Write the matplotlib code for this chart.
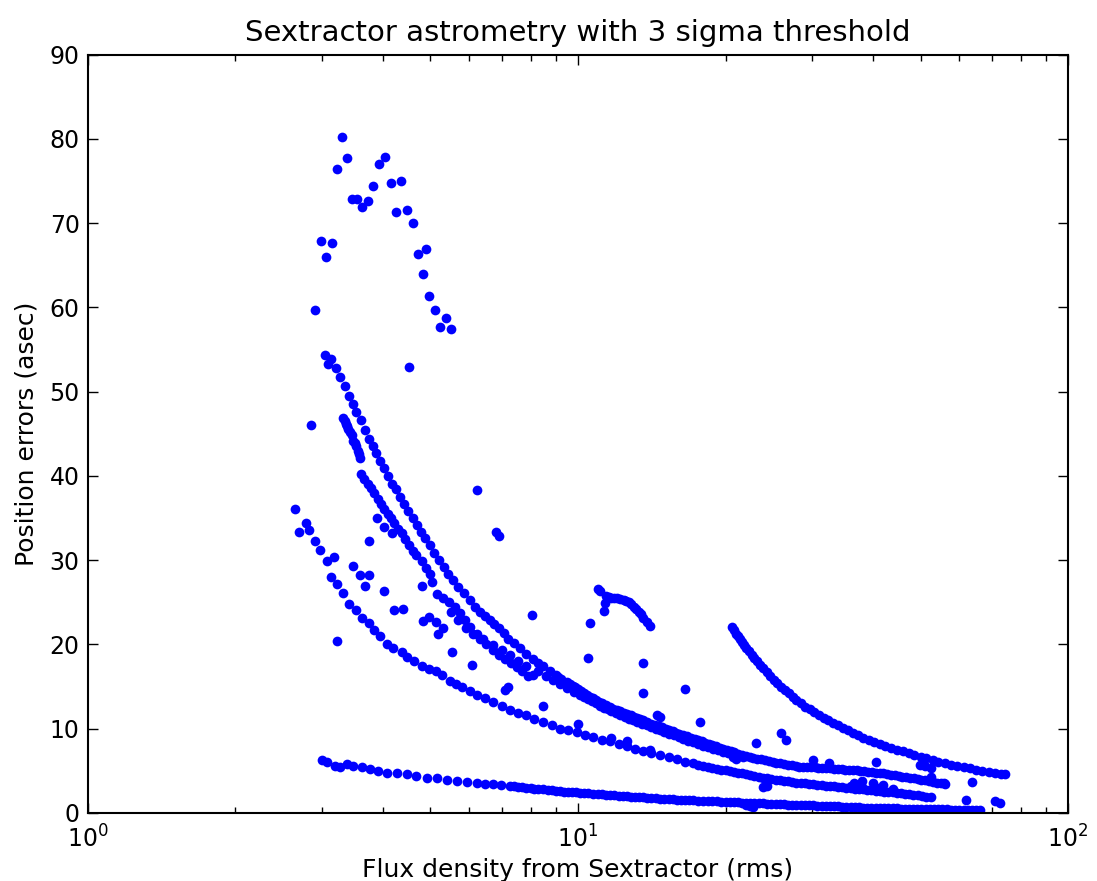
import matplotlib
matplotlib.use("Agg")
import matplotlib.pyplot as plt
from matplotlib.ticker import LogLocator, MultipleLocator

# --- values ---
# isolated sources in the upper cluster
cluster_x = [3.30, 3.37, 3.22, 4.03, 3.93, 3.81, 4.15, 4.36, 3.45, 3.54, 3.72, 3.63, 4.25,
             4.47, 4.60, 2.99, 3.15, 3.06, 4.89, 4.72, 4.83, 4.96, 5.11, 5.37, 5.23, 5.50, 2.91]
cluster_y = [80.2, 77.7, 76.4, 77.9, 77.0, 74.4, 74.8, 75.0, 72.9, 72.9, 72.6, 71.9, 71.3,
             71.6, 70.0, 67.9, 67.7, 66.0, 66.9, 66.3, 64.0, 61.4, 59.7, 58.8, 57.7, 57.4, 59.7]

# other scattered sources
scatter_x = [4.51, 2.85, 6.21, 6.80, 6.90, 3.88, 4.02, 4.18, 3.74, 3.47, 3.59, 3.75, 3.68,
             4.02, 4.21, 4.40, 4.82, 4.96, 5.12, 5.31, 5.19, 3.22, 5.53, 6.09, 4.80, 8.07,
             10.6, 10.5, 13.6, 13.6, 16.5, 14.5, 14.7, 7.19, 7.10, 8.50, 17.7, 23.1, 26.0, 26.6,
             40.5, 63.8, 61.8, 71.1, 72.8, 10.0, 11.7, 12.6, 14.0, 20.7, 21.0, 23.9, 24.3,
             22.4, 22.0, 22.8, 30.2, 32.5, 49.8, 52.6, 51.0, 52.4, 55.7, 36.5, 38.0, 40.0,
             42.0, 38.0, 41.0, 44.0, 36.0]
scatter_y = [52.9, 46.1, 38.3, 33.4, 32.9, 35.0, 34.0, 33.2, 32.3, 29.3, 28.3, 28.3, 27.0,
             26.3, 24.1, 24.2, 22.8, 23.3, 22.7, 22.0, 21.3, 20.4, 19.1, 17.6, 27.0, 23.5,
             22.6, 18.4, 17.8, 14.3, 14.7, 11.6, 11.4, 14.9, 14.6, 12.7, 10.8, 8.3, 9.5, 8.7,
             6.0, 3.7, 1.5, 1.45, 1.15, 10.6, 8.9, 8.6, 7.5, 6.6, 6.4, 3.1, 3.2,
             0.8, 0.9, 0.7, 6.3, 5.9, 5.7, 5.3, 5.6, 4.3, 3.5, 3.6, 3.8, 3.5,
             3.3, 3.1, 3.0, 2.9, 3.2]

# hook near 10-14
hook_x = [11.0, 11.1, 11.35, 11.3, 11.4, 11.55, 11.7, 11.85, 12.0, 12.2, 12.4, 12.55, 12.7,
          12.85, 13.0, 13.15, 13.3, 13.45, 13.6, 13.8, 14.0]
hook_y = [26.6, 26.3, 24.9, 24.0, 25.7, 25.6, 25.5, 25.5, 25.5, 25.4, 25.3, 25.2, 25.1,
          24.8, 24.5, 24.2, 23.9, 23.6, 23.2, 22.7, 22.2]

# upper main track
track_a_x = [3.04, 3.09, 3.14, 3.21, 3.27, 3.34, 3.41, 3.47, 3.53, 3.60, 3.67, 3.74, 3.81,
             3.87, 3.94, 4.02, 4.09, 4.18, 4.26, 4.33, 4.41, 4.50, 4.60, 4.69, 4.78, 4.87,
             4.98, 5.09, 5.20, 5.32, 5.44, 5.56, 5.69, 5.84, 6.01, 6.15, 6.30, 6.45, 6.60,
             6.75, 6.90, 7.05, 7.20, 7.40, 7.60, 7.85, 8.10, 8.30, 8.50, 8.75, 9.00, 9.25,
             9.50, 9.75, 10.0, 10.3, 10.6, 10.9, 11.2, 11.6, 12.0, 12.4, 12.8, 13.2, 13.6,
             14.1, 14.6, 15.1, 15.6, 16.1, 16.7, 17.3, 17.9, 18.5, 19.1, 19.8, 20.5, 21.2,
             22.0, 22.8, 23.6, 24.5, 25.4, 26.3, 27.3, 28.3, 29.3, 30.4, 31.5, 32.7, 33.9,
             35.1, 36.4, 37.7, 39.1, 40.5, 42.0, 43.5, 45.1, 46.7, 48.4, 50.2, 52.0, 54.0, 56.0]
track_a_y = [54.4, 53.3, 53.9, 52.8, 51.7, 50.7, 49.5, 48.6, 47.6, 46.7, 45.5, 44.4, 43.5,
             42.7, 41.8, 41.0, 40.0, 39.1, 38.4, 37.5, 36.7, 35.9, 35.0, 34.2, 33.4, 32.6,
             31.8, 30.9, 30.0, 29.2, 28.4, 27.6, 26.8, 26.1, 25.3, 24.5, 23.9, 23.4, 22.9,
             22.4, 21.9, 21.4, 20.7, 20.2, 19.6, 18.9, 18.3, 17.8, 17.4, 16.9, 16.4, 15.9,
             15.5, 15.1, 14.7, 14.3, 13.8, 13.4, 13.0, 12.6, 12.2, 11.9, 11.6, 11.3, 11.0,
             10.6, 10.3, 10.0, 9.7, 9.4, 9.1, 8.8, 8.5, 8.2, 7.9, 7.6, 7.3, 7.05,
             6.8, 6.55, 6.35, 6.15, 5.95, 5.8, 5.65, 5.5, 5.45, 5.4, 5.35, 5.3, 5.2,
             5.15, 5.1, 5.0, 4.9, 4.8, 4.7, 4.55, 4.4, 4.25, 4.1, 3.95, 3.8, 3.6, 3.4]
# extra readings where the upper track is a solid band
track_a_fill_x = [9.12, 9.62, 9.87, 10.15, 10.45, 10.75, 11.05, 11.4, 11.8, 12.2, 12.6, 13.0,
                  13.4, 13.85, 14.35, 14.85, 15.35, 15.85, 16.4, 17.0, 17.6, 18.2, 18.8, 19.45,
                  20.15, 20.85, 21.6, 22.4, 23.2, 24.05, 24.95, 25.85, 26.8, 27.8, 28.8, 29.85,
                  30.95, 32.1, 33.3, 34.5, 35.75, 37.05, 38.4, 39.8, 41.25, 42.75, 44.3, 45.9,
                  47.55, 49.3, 51.1, 53.0, 55.0]
track_a_fill_y = [16.15, 15.3, 14.9, 14.5, 14.05, 13.6, 13.2, 12.8, 12.4, 12.05, 11.75, 11.45,
                  11.15, 10.8, 10.45, 10.15, 9.85, 9.55, 9.25, 8.95, 8.65, 8.35, 8.05, 7.75,
                  7.45, 7.18, 6.92, 6.68, 6.45, 6.25, 6.05, 5.88, 5.72, 5.58, 5.47, 5.42,
                  5.37, 5.32, 5.25, 5.17, 5.12, 5.05, 4.95, 4.85, 4.75, 4.62, 4.47, 4.32,
                  4.17, 4.02, 3.87, 3.7, 3.5]

# short steep piece next to it
track_b_x = [3.32, 3.34, 3.36, 3.38, 3.40, 3.43, 3.45, 3.48, 3.50, 3.53, 3.55, 3.57, 3.59]
track_b_y = [46.9, 46.5, 46.2, 45.9, 45.6, 45.2, 44.9, 44.2, 43.9, 43.5, 43.0, 42.6, 42.1]

# second track, joins the upper one near 9
track_c_x = [3.61, 3.65, 3.72, 3.78, 3.84, 3.91, 3.97, 4.02, 4.09, 4.15, 4.22, 4.30, 4.37,
             4.44, 4.53, 4.61, 4.68, 4.80, 4.89, 5.00, 5.04, 5.16, 5.31, 5.46, 5.61, 5.75,
             5.88, 6.01, 6.21, 6.40, 6.71, 7.00, 7.27, 7.55, 7.85, 8.10, 8.30, 8.60, 8.90,
             9.20, 9.50, 9.80, 10.1, 10.5, 10.9, 11.3, 11.7, 12.2, 12.7, 13.2, 13.8, 14.4,
             15.0, 15.7, 16.4, 17.2, 18.0, 18.9, 19.8, 20.7, 21.7]
track_c_y = [40.2, 39.7, 39.1, 38.6, 38.0, 37.3, 36.7, 36.1, 35.5, 35.0, 34.4, 33.7, 33.2,
             32.5, 31.8, 31.1, 30.6, 29.9, 29.1, 28.4, 27.4, 26.0, 25.5, 25.1, 24.5, 23.7,
             22.9, 22.1, 21.3, 20.6, 19.9, 19.3, 18.7, 18.0, 17.4, 16.4, 16.9, 16.3, 15.8,
             15.3, 14.8, 14.4, 14.0, 13.5, 13.0, 12.5, 12.1, 11.6, 11.2, 10.8, 10.4, 10.0,
             9.6, 9.2, 8.8, 8.4, 8.0, 7.6, 7.25, 6.9, 6.6]
track_c_fill_x = [10.3, 10.7, 11.1, 11.5, 11.95, 12.45, 12.95, 13.5, 14.1, 14.7, 15.35, 16.05,
                  16.8, 17.6, 18.45, 19.35, 20.25, 21.2]
track_c_fill_y = [13.75, 13.25, 12.75, 12.3, 11.85, 11.4, 11.0, 10.6, 10.2, 9.8, 9.4, 9.0,
                  8.6, 8.2, 7.8, 7.42, 7.07, 6.75]
# lower edge of the thick part of track c
track_c2_x = [5.50, 5.70, 5.90, 6.10, 6.30, 6.50, 6.70, 6.90, 7.10, 7.30, 7.50, 7.70, 7.90]
track_c2_y = [23.8, 22.9, 22.0, 21.3, 20.6, 20.0, 19.4, 18.8, 18.3, 17.8, 17.3, 16.8, 16.3]

# lower dotted track
track_d_x = [2.65, 2.70, 2.78, 2.83, 2.91, 2.97, 3.07, 3.18, 3.14, 3.22, 3.32, 3.41, 3.53,
             3.63, 3.74, 3.84, 3.95, 4.08, 4.20, 4.37, 4.48, 4.62, 4.81, 4.96, 5.12, 5.27,
             5.48, 5.63, 5.81, 6.01, 6.21, 6.45, 6.71, 7.00, 7.27, 7.55, 7.85, 8.15, 8.50,
             8.85, 9.18, 9.55, 9.94, 10.35, 10.75, 11.2, 11.6, 12.1, 12.6, 13.1, 13.6, 14.1,
             14.7, 15.3, 15.9, 16.5, 17.2, 18.0, 18.8, 19.6, 20.4, 21.2, 22.0, 22.9, 23.9,
             24.8, 25.8, 26.8, 27.9, 29.0, 30.2, 31.4, 32.7, 34.0, 35.3, 36.7, 38.2, 39.7,
             41.3, 43.0, 44.7, 46.5, 48.3, 50.3, 52.4]
track_d_y = [36.1, 33.4, 34.4, 33.6, 32.3, 31.2, 29.9, 30.4, 28.0, 27.2, 26.1, 24.8, 24.1,
             23.2, 22.6, 21.7, 21.0, 20.1, 19.6, 19.1, 18.5, 18.0, 17.5, 17.1, 16.8, 16.4,
             15.7, 15.3, 14.9, 14.5, 14.0, 13.6, 13.2, 12.7, 12.2, 11.9, 11.6, 11.2, 10.8,
             10.4, 10.0, 9.8, 9.6, 9.3, 9.0, 8.7, 8.5, 8.2, 7.9, 7.6, 7.3, 7.1,
             6.9, 6.6, 6.4, 6.1, 5.9, 5.6, 5.3, 5.15, 5.0, 4.8, 4.6, 4.4, 4.2,
             4.05, 3.9, 3.75, 3.6, 3.5, 3.4, 3.3, 3.2, 3.1, 3.0, 2.9, 2.8, 2.7,
             2.6, 2.5, 2.4, 2.3, 2.15, 2.0, 1.9]
track_d_fill_x = [17.6, 18.4, 19.2, 20.0, 20.8, 21.6, 22.45, 23.4, 24.35, 25.3, 26.3, 27.35,
                  28.45, 29.6, 30.8, 32.05, 33.35, 34.65, 36.0, 37.45, 38.95, 40.5, 42.15,
                  43.85, 45.6, 47.4, 49.3, 51.3]
track_d_fill_y = [5.75, 5.45, 5.22, 5.07, 4.9, 4.7, 4.5, 4.3, 4.12, 3.97, 3.82, 3.67,
                  3.55, 3.45, 3.35, 3.25, 3.15, 3.05, 2.95, 2.85, 2.75, 2.65, 2.55,
                  2.45, 2.35, 2.22, 2.08, 1.95]

# bottom track
track_e_x = [3.00, 3.08, 3.19, 3.27, 3.38, 3.48, 3.62, 3.76, 3.91, 4.07, 4.27, 4.47, 4.68,
             4.91, 5.15, 5.40, 5.66, 5.93, 6.22, 6.45, 6.71, 6.98, 7.25, 7.55, 7.85, 8.15,
             8.50, 8.85, 9.18, 9.55, 9.90, 10.3, 10.75, 11.2, 11.6, 12.1, 12.6, 13.1, 13.6,
             14.1, 14.7, 15.3, 15.9, 16.5, 17.2, 18.0, 18.8, 19.6, 20.4, 21.2, 22.0, 22.9,
             23.9, 24.8, 25.8, 26.8, 27.9, 29.0, 30.2, 31.4, 32.7, 34.0, 35.3, 36.7, 38.2,
             39.7, 41.3, 43.0, 44.7, 46.5, 48.2, 50.2, 52.2, 54.3, 56.5, 58.8, 61.2, 63.6, 66.1]
track_e_y = [6.3, 6.0, 5.6, 5.5, 5.8, 5.6, 5.4, 5.2, 5.0, 4.8, 4.8, 4.6, 4.4,
             4.2, 4.1, 3.9, 3.8, 3.7, 3.5, 3.45, 3.4, 3.3, 3.2, 3.1, 3.0, 2.9,
             2.8, 2.7, 2.6, 2.5, 2.45, 2.35, 2.3, 2.2, 2.15, 2.05, 2.0, 1.9, 1.85,
             1.8, 1.7, 1.65, 1.6, 1.55, 1.5, 1.45, 1.4, 1.35, 1.3, 1.25, 1.2, 1.15,
             1.15, 1.1, 1.05, 1.0, 0.95, 0.92, 0.9, 0.85, 0.8, 0.78, 0.75, 0.7, 0.65,
             0.62, 0.6, 0.58, 0.55, 0.52, 0.5, 0.48, 0.45, 0.43, 0.42, 0.4, 0.38, 0.36, 0.35]
track_e_fill_x = [7.4, 7.7, 8.0, 8.3, 8.7, 9.0, 9.35, 9.7, 10.1, 10.5, 11.0, 11.4, 11.85,
                  12.35, 12.85, 13.35, 13.85, 14.4, 15.0, 15.6, 16.2, 16.85, 17.6, 18.4, 19.2,
                  20.0, 20.8, 21.6, 22.45, 23.4, 24.35, 25.3, 26.3, 27.35, 28.45, 29.6, 30.8,
                  32.0, 33.35, 34.65, 36.0, 37.45, 38.95, 40.5, 42.15, 43.85, 45.6, 47.35,
                  49.2, 51.2, 53.25, 55.4, 57.65, 60.0, 62.4, 64.85]
track_e_fill_y = [3.15, 3.05, 2.95, 2.85, 2.75, 2.65, 2.55, 2.48, 2.4, 2.32, 2.25, 2.18, 2.1,
                  2.02, 1.95, 1.88, 1.82, 1.75, 1.68, 1.62, 1.57, 1.52, 1.47, 1.42, 1.37,
                  1.32, 1.27, 1.22, 1.17, 1.15, 1.12, 1.07, 1.02, 0.97, 0.93, 0.91, 0.87,
                  0.82, 0.79, 0.76, 0.72, 0.67, 0.63, 0.61, 0.59, 0.56, 0.53, 0.51,
                  0.49, 0.46, 0.44, 0.42, 0.41, 0.39, 0.37, 0.35]

# right-hand track starting near 20
track_f_x = [20.6, 20.8, 21.0, 21.2, 21.4, 21.6, 21.8, 22.0, 22.3, 22.6, 22.9, 23.2, 23.5,
             23.9, 24.3, 24.7, 25.1, 25.5, 25.9, 26.4, 26.9, 27.4, 27.9, 28.5, 29.1, 29.7,
             30.3, 31.0, 31.7, 32.4, 33.1, 33.9, 34.7, 35.5, 36.4, 37.3, 38.2, 39.2, 40.2,
             41.3, 42.4, 43.6, 44.8, 46.0, 47.3, 48.6, 50.0, 51.4, 52.9, 54.4, 56.0, 57.7,
             59.4, 61.2, 63.0, 64.9, 66.9, 68.9, 71.0, 73.1, 74.3]
track_f_y = [22.1, 21.7, 21.3, 21.0, 20.6, 20.3, 19.9, 19.6, 19.2, 18.8, 18.4, 18.0, 17.6,
             17.2, 16.7, 16.3, 15.8, 15.4, 15.0, 14.6, 14.2, 13.8, 13.4, 13.0, 12.6, 12.3,
             12.0, 11.6, 11.3, 11.0, 10.7, 10.4, 10.1, 9.8, 9.5, 9.2, 8.95, 8.7, 8.45,
             8.2, 7.95, 7.7, 7.5, 7.3, 7.1, 6.9, 6.7, 6.5, 6.3, 6.1, 5.9, 5.75,
             5.6, 5.45, 5.3, 5.15, 5.0, 4.9, 4.75, 4.65, 4.6]

groups = [
    (cluster_x, cluster_y), (scatter_x, scatter_y), (hook_x, hook_y),
    (track_a_x, track_a_y), (track_a_fill_x, track_a_fill_y),
    (track_b_x, track_b_y), (track_c_x, track_c_y), (track_c_fill_x, track_c_fill_y),
    (track_c2_x, track_c2_y), (track_d_x, track_d_y), (track_d_fill_x, track_d_fill_y),
    (track_e_x, track_e_y), (track_e_fill_x, track_e_fill_y), (track_f_x, track_f_y),
]

fig = plt.figure(figsize=(10.97, 8.81), dpi=100)
ax = fig.add_axes([0.0802, 0.0772, 0.8934, 0.8607])

for gx, gy in groups:
    ax.plot(gx, gy, 'o', color='#0000ff', markersize=7.0, markeredgewidth=0)

ax.set_xscale('log')
ax.set_xlim(1, 100)
ax.set_ylim(0, 90)
ax.yaxis.set_major_locator(MultipleLocator(10))
ax.xaxis.set_major_locator(LogLocator(base=10))
ax.xaxis.set_minor_locator(LogLocator(base=10, subs=range(2, 10)))

ax.tick_params(which='both', direction='in', top=True, right=True, labelsize=17)
ax.tick_params(axis='x', which='both', pad=9)
ax.tick_params(axis='y', which='both', pad=6)
ax.tick_params(which='major', length=7, width=1)
ax.tick_params(which='minor', length=4, width=1)
for s in ax.spines.values():
    s.set_linewidth(1.5)

ax.set_xlabel('Flux density from Sextractor (rms)', fontsize=18, labelpad=4)
ax.set_ylabel('Position errors (asec)', fontsize=18, labelpad=8)
ax.set_title('Sextractor astrometry with 3 sigma threshold', fontsize=21, pad=10)

fig.savefig('out.png', dpi=100)
